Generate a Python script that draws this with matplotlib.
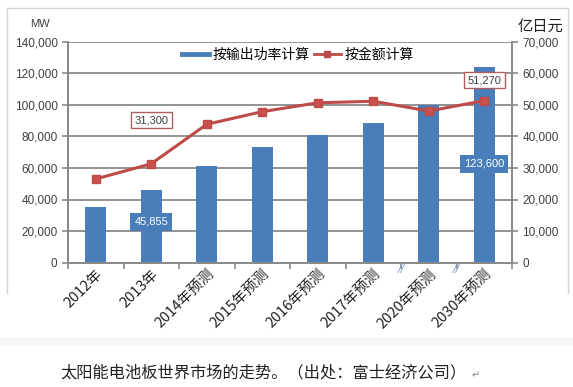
import matplotlib
matplotlib.use("Agg")
import matplotlib.pyplot as plt
from matplotlib.lines import Line2D
from matplotlib.patches import Rectangle
from matplotlib.ticker import FuncFormatter

plt.rcParams['font.family'] = ['Liberation Sans', 'Noto Sans CJK SC', 'DejaVu Sans']

# data
categories = ["2012年", "2013年", "2014年预测", "2015年预测", "2016年预测",
              "2017年预测", "2020年预测", "2030年预测"]
output_mw = [35000, 45855, 61500, 73000, 81000, 88500, 99500, 123600]
amount_oku_yen = [26500, 31300, 43800, 47800, 50600, 51100, 48000, 51270]

bar_color = "#4a7ebb"
line_color = "#be4b48"
grid_color = "#8a8a8a"
text_color = "#404040"
cjk = ['Noto Sans CJK SC', 'DejaVu Sans']

fig = plt.figure(figsize=(5.73, 3.87), dpi=100)

# light chart frame (left, top, right only)
frame_l, frame_r, frame_t, frame_b = 7 / 573, 568 / 573, 1 - 8 / 387, 1 - 293 / 387
for xs, ys in [((frame_l, frame_l), (frame_b, frame_t)),
               ((frame_l, frame_r), (frame_t, frame_t)),
               ((frame_r, frame_r), (frame_b, frame_t))]:
    fig.lines.append(Line2D(xs, ys, transform=fig.transFigure,
                            color="#d4d4d4", lw=1.0))
fig.patches.append(Rectangle((0, 1 - 345 / 387), 1, 8 / 387,
                             transform=fig.transFigure, facecolor="#f6f6f6",
                             edgecolor="none"))

ax = fig.add_axes([68 / 573, 1 - 262.7 / 387, 444 / 573, 221.2 / 387])
ax2 = ax.twinx()

x = list(range(len(categories)))
ax.bar(x, output_mw, width=0.38, color=bar_color, zorder=2)
ax.set_xlim(-0.5, len(categories) - 0.5)
ax.set_ylim(0, 140000)
ax.set_yticks(range(0, 140001, 20000))
ax.yaxis.set_major_formatter(FuncFormatter(lambda v, p: f"{int(v):,}"))
ax.grid(axis="y", color=grid_color, lw=1.3, zorder=0)
ax.set_axisbelow(True)

ax2.plot(x, amount_oku_yen, color=line_color, lw=2.2, marker="s", ms=6,
         markerfacecolor="#c8504d", markeredgecolor=line_color, zorder=3)
ax2.set_ylim(0, 70000)
ax2.set_yticks(range(0, 70001, 10000))
ax2.yaxis.set_major_formatter(FuncFormatter(lambda v, p: f"{int(v):,}"))

for a in (ax, ax2):
    for s in a.spines.values():
        s.set_color(grid_color)
        s.set_linewidth(1.3)
    a.spines["top"].set_visible(False)
    a.tick_params(axis="y", colors=grid_color, labelcolor=text_color,
                  labelsize=8.5, length=4, width=1.2)

ax.set_xticks(x)
ax.set_xticklabels(categories, rotation=45, ha="right", rotation_mode="anchor",
                   fontsize=10.5, color="#222222", family=cjk)
ax.tick_params(axis="x", length=0, pad=3)
ax.set_xticks([i - 0.5 for i in range(len(categories) + 1)], minor=True)
ax.tick_params(axis="x", which="minor", length=4, width=1.2, colors=grid_color)

# axis break marks
for bx in (5.5, 6.5):
    ax.text(bx, -800, "//", color="#7f9fc8", fontsize=9, style="italic",
            ha="center", va="top", clip_on=False)

# value labels
ax2.text(1, 90300, "31,300", transform=ax.transData, ha="center", va="center",
         fontsize=8, color=text_color, zorder=5,
         bbox=dict(boxstyle="square,pad=0.3", fc="white", ec="#b06060", lw=1))
ax2.text(7, 115600, "51,270", transform=ax.transData, ha="center", va="center",
         fontsize=8, color=text_color, zorder=5,
         bbox=dict(boxstyle="square,pad=0.3", fc="white", ec="#b06060", lw=1))
ax2.text(1, 25800, "45,855", transform=ax.transData, ha="center", va="center",
         fontsize=8, color="white", zorder=5,
         bbox=dict(boxstyle="square,pad=0.35", fc=bar_color, ec="none"))
ax2.text(7, 62500, "123,600", transform=ax.transData, ha="center", va="center",
         fontsize=8, color="white", zorder=5,
         bbox=dict(boxstyle="square,pad=0.35", fc=bar_color, ec="none"))

handles = [Line2D([], [], color=bar_color, lw=3.5),
           Line2D([], [], color=line_color, lw=2, marker="s", ms=5)]
ax2.legend(handles, ["按输出功率计算", "按金额计算"], loc="center",
           bbox_to_anchor=(0.517, 0.939), ncol=2, frameon=False,
           prop=dict(family=cjk, size=10),
           handlelength=2.0, handletextpad=0.2, columnspacing=0.3)

fig.text(40 / 573, 1 - 24 / 387, "MW", fontsize=8, color=text_color,
         ha="center", va="center")
fig.text(540 / 573, 1 - 26 / 387, "亿日元", fontsize=11, color="#222222",
         ha="center", va="center", family=cjk)

fig.text(60 / 573, 1 - 373 / 387, "太阳能电池板世界市场的走势。（出处：富士经济公司）",
         fontsize=11.7, color="#222222", ha="left", va="center", family=cjk)
fig.text(476 / 573, 1 - 375 / 387, "↵", fontsize=7, color="#888888",
         ha="center", va="center", family=['DejaVu Sans'])

fig.savefig("out.png", dpi=100)
